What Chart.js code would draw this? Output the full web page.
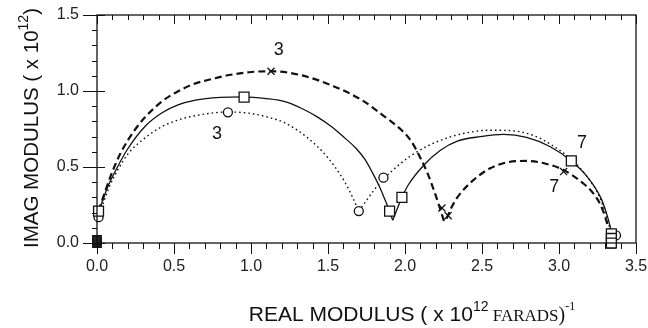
<!DOCTYPE html>
<html>
<head>
<meta charset="utf-8">
<script src="https://cdn.jsdelivr.net/npm/chart.js@4/dist/chart.umd.min.js"></script>
<style>
  html, body { margin: 0; padding: 0; background: #fff; }
</style>
</head>
<body>
<canvas id="myChart" width="648" height="328"></canvas>
<script>
// tick labels
const xTickLabels = ['0.0', '0.5', '1.0', '1.5', '2.0', '2.5', '3.0', '3.5'];
const yTickLabels = ['0.0', '0.5', '1.0', '1.5'];

// curves as [real, imag] pairs
const solidArcA = [[0.01,0.20],[0.03,0.26],[0.07,0.37],[0.12,0.475],[0.20,0.62],[0.31,0.765],[0.42,0.855],
  [0.53,0.91],[0.64,0.94],[0.80,0.958],[0.955,0.962],[1.10,0.95],[1.22,0.93],[1.33,0.885],[1.43,0.83],
  [1.53,0.76],[1.61,0.69],[1.68,0.625],[1.74,0.55],[1.79,0.46],[1.83,0.38],[1.86,0.31],[1.89,0.235],[1.92,0.15]];
const solidArcB = [[1.92,0.15],[1.98,0.30],[2.02,0.38],[2.12,0.51],[2.23,0.61],[2.34,0.67],[2.49,0.70],
  [2.64,0.715],[2.79,0.695],[2.94,0.635],[3.08,0.54],[3.18,0.44],[3.27,0.30],[3.31,0.19],[3.34,0.08]];

const dashArcA = [[0.01,0.21],[0.03,0.27],[0.06,0.36],[0.10,0.47],[0.15,0.585],[0.20,0.675],[0.25,0.75],
  [0.31,0.825],[0.42,0.93],[0.53,1.00],[0.64,1.05],[0.75,1.08],[0.86,1.105],[1.00,1.125],[1.13,1.13],
  [1.32,1.105],[1.54,1.03],[1.72,0.94],[1.87,0.83],[1.98,0.74],[2.04,0.67],[2.10,0.56],[2.15,0.45],
  [2.19,0.34],[2.22,0.25],[2.245,0.17],[2.26,0.12]];
const dashArcB = [[2.27,0.16],[2.30,0.23],[2.34,0.30],[2.44,0.41],[2.55,0.49],[2.66,0.53],[2.79,0.54],
  [2.92,0.52],[3.03,0.48],[3.16,0.39],[3.22,0.33],[3.27,0.25],[3.30,0.17],[3.32,0.10],[3.33,0.05]];

const dotArcA = [[0.01,0.17],[0.03,0.23],[0.08,0.37],[0.14,0.49],[0.20,0.585],[0.31,0.69],[0.42,0.765],
  [0.53,0.81],[0.64,0.838],[0.85,0.862],[1.00,0.852],[1.12,0.825],[1.22,0.79],[1.37,0.69],[1.50,0.56],
  [1.61,0.40],[1.66,0.30],[1.70,0.21]];
const dotArcB = [[1.70,0.21],[1.75,0.28],[1.80,0.35],[1.86,0.42],[1.95,0.505],[2.04,0.575],[2.14,0.635],
  [2.27,0.69],[2.40,0.725],[2.55,0.742],[2.70,0.738],[2.84,0.705],[2.96,0.64],[3.08,0.55],[3.18,0.44],
  [3.26,0.31],[3.31,0.17],[3.34,0.06]];

// plotted symbols
const squareMarks = [[0.01,0.21],[0.955,0.96],[1.90,0.21],[1.98,0.30],[3.08,0.54],[3.34,0.06],[3.34,0.03],[3.34,0.0]];
const crossMarks = [[0.01,0.22],[1.13,1.13],[2.24,0.23],[2.28,0.18],[3.03,0.47],[3.33,0.05]];
const circleMarks = [[0.01,0.17],[0.85,0.86],[1.70,0.21],[1.86,0.43],[3.37,0.05]];
const originMarks = [[0.0,0.0],[0.0,0.02],[3.34,-0.005]];

// curve labels
const noteText = ['3', '3', '7', '7'];
const noteX = [1.18, 0.78, 3.15, 2.97];
const noteY = [1.27, 0.72, 0.66, 0.37];

const toXY = arr => arr.map(p => ({ x: p[0], y: p[1] }));

function lineSet(points, dash, width) {
  return {
    data: toXY(points),
    showLine: true,
    borderColor: '#111',
    borderWidth: width,
    borderDash: dash,
    pointRadius: 0,
    cubicInterpolationMode: 'monotone',
    fill: false,
    order: 2
  };
}

function markSet(points, style, radius, fillColor) {
  return {
    data: toXY(points),
    showLine: false,
    pointStyle: style,
    pointRadius: radius,
    pointBorderColor: '#111',
    pointBorderWidth: 1.3,
    pointBackgroundColor: fillColor,
    clip: false,
    order: 1
  };
}

// frame, ticks, axis titles and curve labels
const decorations = {
  id: 'decorations',
  afterDatasetsDraw(chart) {
    const ctx = chart.ctx;
    const a = chart.chartArea;
    const xs = chart.scales.x, ys = chart.scales.y;
    ctx.save();
    ctx.strokeStyle = '#111';
    ctx.lineWidth = 1.3;
    ctx.strokeRect(a.left, a.top, a.right - a.left, a.bottom - a.top);

    ctx.lineWidth = 1;
    ctx.beginPath();
    for (let i = 0; i <= 35; i++) {
      const px = Math.round(xs.getPixelForValue(i / 10)) + 0.5;
      const major = i % 5 === 0;
      ctx.moveTo(px, a.bottom);
      ctx.lineTo(px, a.bottom + (major ? 11 : 6));
      ctx.moveTo(px, a.top);
      ctx.lineTo(px, a.top + (major ? 9 : 5));
    }
    for (let i = 0; i <= 15; i++) {
      const py = Math.round(ys.getPixelForValue(i / 10)) + 0.5;
      const major = i % 5 === 0;
      ctx.moveTo(a.left - (major ? 14 : 5), py);
      ctx.lineTo(a.left + (major ? 8 : 0), py);
    }
    ctx.stroke();

    ctx.fillStyle = '#111';
    ctx.font = '18px "Liberation Sans", Arial, sans-serif';
    ctx.textAlign = 'center';
    ctx.textBaseline = 'middle';
    for (let i = 0; i < noteText.length; i++) {
      ctx.fillText(noteText[i], xs.getPixelForValue(noteX[i]), ys.getPixelForValue(noteY[i]));
    }

    ctx.textAlign = 'left';
    ctx.textBaseline = 'alphabetic';
    const drawRuns = (runs, cx, cy) => {
      let total = 0;
      runs.forEach(r => { ctx.font = r.f; total += ctx.measureText(r.t).width; });
      let x = cx - total / 2;
      runs.forEach(r => { ctx.font = r.f; ctx.fillText(r.t, x, cy + r.dy); x += ctx.measureText(r.t).width; });
    };
    const sans = s => s + 'px "Liberation Sans", Arial, sans-serif';
    const serif = s => s + 'px "Liberation Serif", "Times New Roman", serif';

    drawRuns([
      { t: 'REAL MODULUS ( x 10', f: sans(21), dy: 0 },
      { t: '12', f: sans(14), dy: -10 },
      { t: ' FARADS', f: serif(17), dy: 0 },
      { t: ')', f: serif(20), dy: 0 },
      { t: '-1', f: serif(12), dy: -11 }
    ], 412, 321);

    ctx.translate(38, 128);
    ctx.rotate(-Math.PI / 2);
    drawRuns([
      { t: 'IMAG MODULUS ( x 10', f: sans(20.5), dy: 0 },
      { t: '12', f: sans(14), dy: -10 },
      { t: ')', f: sans(20.5), dy: 0 }
    ], 0, 0);
    ctx.restore();
  }
};

const config = {
  type: 'scatter',
  data: {
    datasets: [
      lineSet(solidArcA, [], 1.3),
      lineSet(solidArcB, [], 1.3),
      lineSet(dashArcA, [7, 4], 2.2),
      lineSet(dashArcB, [7, 4], 2.2),
      lineSet(dotArcA, [1.6, 3], 1.4),
      lineSet(dotArcB, [1.6, 3], 1.4),
      markSet(squareMarks, 'rect', 7, '#fff'),
      markSet(circleMarks, 'circle', 4.5, '#fff'),
      markSet(crossMarks, 'crossRot', 5, '#fff'),
      markSet(originMarks, 'rect', 6, '#222')
    ]
  },
  options: {
    responsive: false,
    animation: false,
    layout: { padding: { left: 0, right: 12, top: 15, bottom: 0 } },
    plugins: {
      legend: { display: false },
      tooltip: { enabled: false }
    },
    scales: {
      x: {
        type: 'linear',
        min: 0,
        max: 3.5,
        grid: { display: false, drawTicks: false },
        border: { display: false },
        ticks: {
          stepSize: 0.5,
          padding: 14,
          color: '#222',
          font: { family: '"Liberation Sans", Arial, sans-serif', size: 16 },
          callback: (v, i) => xTickLabels[i]
        },
        afterFit: s => { s.height = 85; s.paddingLeft = 0; s.paddingRight = 0; }
      },
      y: {
        type: 'linear',
        min: 0,
        max: 1.5,
        grid: { display: false, drawTicks: false },
        border: { display: false },
        ticks: {
          stepSize: 0.5,
          padding: 18,
          color: '#222',
          font: { family: '"Liberation Sans", Arial, sans-serif', size: 16 },
          callback: (v, i) => yTickLabels[i]
        },
        afterFit: s => { s.width = 97; s.paddingTop = 0; s.paddingBottom = 0; }
      }
    }
  },
  plugins: [decorations]
};

var myChart = new Chart(document.getElementById('myChart'), config);
</script>
</body>
</html>
